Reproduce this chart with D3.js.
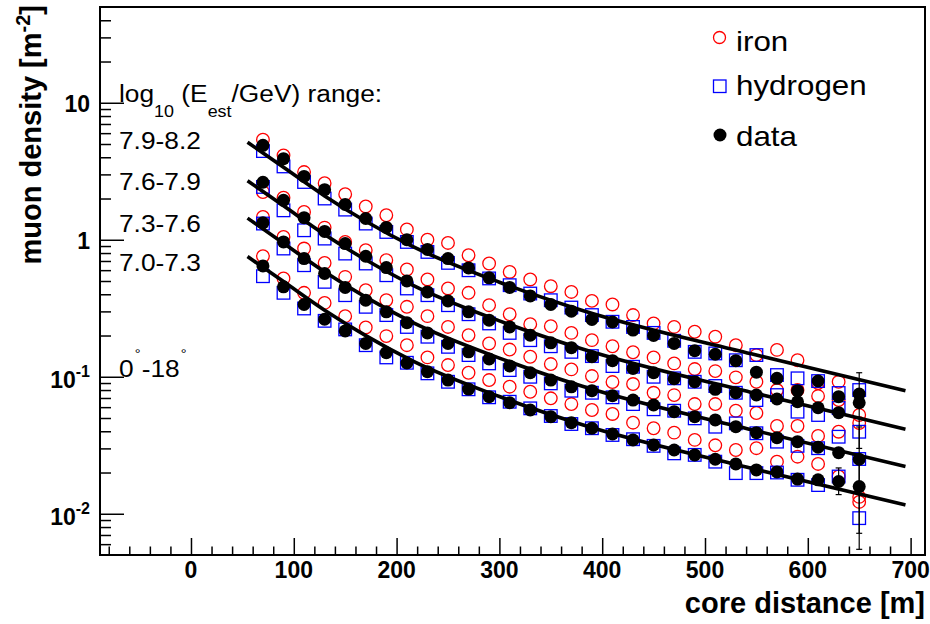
<!DOCTYPE html>
<html>
<head>
<meta charset="utf-8">
<script src="https://cdn.jsdelivr.net/npm/d3@7"></script>
<style>
  body { margin: 0; background: #fff; }
  svg { display: block; }
  text { font-family: "Liberation Sans", Arial, Helvetica, sans-serif; fill: #000; }
</style>
</head>
<body>
<svg id="chart" width="930" height="624"></svg>
<script>
// core distance of every point [m]
var distances = [70, 90, 110, 130, 150, 170, 190, 210, 230, 250, 270, 290, 310, 330, 350,
                 370, 390, 410, 430, 450, 470, 490, 510, 530, 550, 570, 590, 610, 630, 650];

var binLabels = ["7.0-7.3", "7.3-7.6", "7.6-7.9", "7.9-8.2"];

// measured muon density, one array per energy bin
var dataBin1 = [0.644, 0.453, 0.337, 0.263, 0.216, 0.175, 0.150, 0.126, 0.109, 0.0946, 0.0813, 0.0715, 0.0646, 0.0572, 0.0511,
                0.0462, 0.0421, 0.0382, 0.0346, 0.0318, 0.0292, 0.0269, 0.0250, 0.0231, 0.0209, 0.0202, 0.0179, 0.0177, 0.0172, 0.0158];
var dataBin2 = [1.33, 0.964, 0.729, 0.567, 0.449, 0.362, 0.298, 0.248, 0.209, 0.175, 0.152, 0.135, 0.120, 0.107, 0.0946,
                0.0845, 0.0791, 0.0727, 0.0676, 0.0622, 0.0556, 0.0511, 0.0484, 0.0432, 0.0391, 0.0359, 0.0336, 0.0306, 0.0279, 0.0250];
var dataBin3 = [2.63, 1.94, 1.45, 1.15, 0.938, 0.758, 0.627, 0.501, 0.416, 0.358, 0.298, 0.259, 0.231, 0.201, 0.177,
                0.163, 0.140, 0.131, 0.115, 0.107, 0.0967, 0.0920, 0.0809, 0.0764, 0.0736, 0.0688, 0.0657, 0.0594, 0.0547, 0.0646];
var dataBin4 = [4.89, 3.91, 2.90, 2.32, 1.81, 1.43, 1.23, 1.00, 0.849, 0.729, 0.623, 0.527, 0.449, 0.389, 0.337,
                0.301, 0.262, 0.251, 0.219, 0.200, 0.175, 0.155, 0.146, 0.131, 0.108, 0.0974, 0.0791, 0.0931, 0.0715, 0.0748];

// iron simulation
var ironBin1 = [0.758, 0.522, 0.410, 0.346, 0.277, 0.229, 0.198, 0.170, 0.1384, 0.1217, 0.107, 0.0946, 0.0846, 0.0777, 0.0696,
                0.0632, 0.0572, 0.0535, 0.0462, 0.0421, 0.0391, 0.0346, 0.0316, 0.0292, 0.0301, 0.0240, 0.0261, 0.0231, 0.0187, 0.0122];
var ironBin2 = [1.466, 1.048, 0.863, 0.678, 0.536, 0.428, 0.362, 0.324, 0.277, 0.231, 0.201, 0.175, 0.158, 0.140, 0.1238,
                0.1132, 0.1012, 0.0915, 0.0885, 0.0764, 0.0735, 0.0632, 0.0632, 0.0565, 0.0544, 0.0437, 0.0437, 0.0370, 0.0397, 0.01328];
var ironBin3 = [2.23, 2.03, 1.595, 1.227, 0.964, 0.839, 0.709, 0.607, 0.513, 0.441, 0.410, 0.333, 0.286, 0.242, 0.234,
                0.209, 0.185, 0.167, 0.151, 0.1384, 0.1252, 0.1138, 0.110, 0.0990, 0.0919, 0.080, 0.080, 0.0723, 0.0676, 0.0460];
var ironBin4 = [5.37, 4.13, 3.12, 2.59, 2.15, 1.75, 1.51, 1.19, 1.00, 0.948, 0.771, 0.671, 0.582, 0.513, 0.458,
                0.416, 0.358, 0.337, 0.282, 0.245, 0.231, 0.213, 0.196, 0.170, 0.144, 0.157, 0.132, 0.0900, 0.0919, 0.0526];

// hydrogen simulation
var hydrogenBin1 = [0.542, 0.410, 0.315, 0.256, 0.2216, 0.170, 0.1384, 0.1265, 0.1059, 0.0919, 0.0810, 0.0708, 0.0657, 0.0588, 0.0517,
                    0.0452, 0.0421, 0.0376, 0.0350, 0.0313, 0.0276, 0.0269, 0.0240, 0.0198, 0.0198, 0.0200, 0.0177, 0.0162, 0.0187, 0.00929];
var hydrogenBin2 = [1.313, 0.863, 0.652, 0.493, 0.394, 0.324, 0.282, 0.231, 0.196, 0.1654, 0.144, 0.1252, 0.1119, 0.100, 0.0895,
                    0.0791, 0.0764, 0.0708, 0.0632, 0.0579, 0.0565, 0.0497, 0.0432, 0.0457, 0.0387, 0.0336, 0.0313, 0.0301, 0.0365, 0.0251];
var hydrogenBin3 = [2.43, 1.64, 1.173, 1.02, 0.793, 0.671, 0.551, 0.441, 0.394, 0.333, 0.286, 0.245, 0.209, 0.185, 0.167,
                    0.152, 0.1415, 0.1197, 0.1183, 0.100, 0.0974, 0.0919, 0.0856, 0.0764, 0.0676, 0.0735, 0.0556, 0.0526, 0.0591, 0.0397];
var hydrogenBin4 = [4.44, 3.43, 2.64, 2.00, 1.66, 1.313, 1.14, 0.964, 0.815, 0.678, 0.599, 0.522, 0.466, 0.405, 0.362,
                    0.320, 0.282, 0.252, 0.231, 0.209, 0.183, 0.152, 0.148, 0.132, 0.144, 0.1029, 0.0974, 0.0930, 0.0761, 0.080];

// fitted lateral distribution
var fitDistances = [55, 90, 130, 170, 215, 300, 380, 545, 695];
var fitBin1 = [0.754, 0.495, 0.306, 0.1997, 0.1313, 0.0717, 0.0448, 0.0215, 0.01158];
var fitBin2 = [1.438, 0.944, 0.584, 0.381, 0.2505, 0.1369, 0.0855, 0.0411, 0.0221];
var fitBin3 = [2.70, 1.77, 1.094, 0.714, 0.469, 0.256, 0.160, 0.0769, 0.0414];
var fitBin4 = [5.15, 3.38, 2.09, 1.364, 0.897, 0.490, 0.306, 0.147, 0.0791];

// error bars on the outermost data points
var errDistance = [650, 650, 650, 630];
var errLow = [0.0055, 0.0072, 0.030, 0.0138];
var errHigh = [0.027, 0.043, 0.107, 0.0216];

var xTickValues = [0, 100, 200, 300, 400, 500, 600, 700];
var yTickValues = [0.01, 0.1, 1, 10];
var yTickBase = ["10", "10", "1", "10"];
var yTickExp = ["-2", "-1", "", ""];

(function() {

	var left = 100, right = 925, top = 7, bottom = 555;

	var svg = d3.select('#chart');

	var x = d3.scaleLinear().domain([-88.5, 714]).range([left, right]);
	var y = d3.scaleLog().domain([0.005, 50]).range([bottom, top]);

	// the regular text in the original is a little wider than Liberation Sans
	var widen = function(x0) { return 'translate(' + x0 + ',0) scale(1.12,1) translate(' + (-x0) + ',0)'; };

	svg.append('rect').attr('width', 930).attr('height', 624).attr('fill', '#fff');

	var allData = [dataBin1, dataBin2, dataBin3, dataBin4];
	var allIron = [ironBin1, ironBin2, ironBin3, ironBin4];
	var allHydrogen = [hydrogenBin1, hydrogenBin2, hydrogenBin3, hydrogenBin4];
	var allFit = [fitBin1, fitBin2, fitBin3, fitBin4];

	var pairs = function(values) {
		return values.map(function(v, i) { return { d: distances[i], v: v }; });
	};

	var plot = svg.append('g');

	// iron: open red circles
	allIron.forEach(function(series) {
		plot.selectAll(null).data(pairs(series)).enter()
			.append('circle')
				.attr('cx', function(p) { return x(p.d); })
				.attr('cy', function(p) { return y(p.v); })
				.attr('r', 6.3)
				.attr('fill', 'none')
				.attr('stroke', '#ff0000')
				.attr('stroke-width', 1.3);
	});

	// hydrogen: open blue squares
	allHydrogen.forEach(function(series) {
		plot.selectAll(null).data(pairs(series)).enter()
			.append('rect')
				.attr('x', function(p) { return x(p.d) - 6.3; })
				.attr('y', function(p) { return y(p.v) - 6.3; })
				.attr('width', 12.6)
				.attr('height', 12.6)
				.attr('fill', 'none')
				.attr('stroke', '#0000ff')
				.attr('stroke-width', 1.3);
	});

	// fitted curves
	var line = d3.line()
		.x(function(p) { return x(p.d); })
		.y(function(p) { return y(p.v); })
		.curve(d3.curveMonotoneX);

	allFit.forEach(function(series) {
		plot.append('path')
			.datum(series.map(function(v, i) { return { d: fitDistances[i], v: v }; }))
			.attr('d', line)
			.attr('fill', 'none')
			.attr('stroke', '#000')
			.attr('stroke-width', 3.6);
	});

	// error bars
	errDistance.forEach(function(d, i) {
		var g = plot.append('g').attr('stroke', '#000').attr('stroke-width', 1.2);
		g.append('line').attr('x1', x(d)).attr('x2', x(d)).attr('y1', y(errLow[i])).attr('y2', y(errHigh[i]));
		g.append('line').attr('x1', x(d) - 3).attr('x2', x(d) + 3).attr('y1', y(errLow[i])).attr('y2', y(errLow[i]));
		g.append('line').attr('x1', x(d) - 3).attr('x2', x(d) + 3).attr('y1', y(errHigh[i])).attr('y2', y(errHigh[i]));
	});

	// data: full black dots
	allData.forEach(function(series) {
		plot.selectAll(null).data(pairs(series)).enter()
			.append('circle')
				.attr('cx', function(p) { return x(p.d); })
				.attr('cy', function(p) { return y(p.v); })
				.attr('r', 6.5)
				.attr('fill', '#000');
	});

	// frame
	svg.append('rect')
		.attr('x', left).attr('y', top)
		.attr('width', right - left).attr('height', bottom - top)
		.attr('fill', 'none').attr('stroke', '#000').attr('stroke-width', 2);

	// x axis ticks (inward)
	var xMinor = d3.range(-80, 701, 20).filter(function(v) { return v % 100 !== 0; });
	var xAxisMajor = d3.axisBottom(x).tickValues(xTickValues).tickSize(-17).tickFormat('');
	var xAxisMinor = d3.axisBottom(x).tickValues(xMinor).tickSize(-8.5).tickFormat('');
	[xAxisMajor, xAxisMinor].forEach(function(ax) {
		var g = svg.append('g').attr('transform', 'translate(0,' + bottom + ')').call(ax);
		g.select('.domain').remove();
		g.selectAll('line').attr('stroke', '#000').attr('stroke-width', 1.5);
	});

	svg.selectAll(null).data(xTickValues).enter()
		.append('text')
			.attr('x', function(v) { return x(v); })
			.attr('y', 578)
			.attr('text-anchor', 'middle')
			.attr('font-size', 23)
			.attr('font-weight', 'bold')
			.text(function(v) { return v; });

	// y axis ticks (inward)
	var yMinor = y.ticks().filter(function(v) {
		return yTickValues.indexOf(v) < 0 && v > 0.0051 && v < 49;
	});
	var yAxisMajor = d3.axisLeft(y).tickValues(yTickValues).tickSize(-24).tickFormat('');
	var yAxisMinor = d3.axisLeft(y).tickValues(yMinor).tickSize(-11).tickFormat('');
	[yAxisMajor, yAxisMinor].forEach(function(ax) {
		var g = svg.append('g').attr('transform', 'translate(' + left + ',0)').call(ax);
		g.select('.domain').remove();
		g.selectAll('line').attr('stroke', '#000').attr('stroke-width', 1.5);
	});

	yTickValues.forEach(function(v, i) {
		var t = svg.append('text')
			.attr('x', 90)
			.attr('y', y(v) + (yTickExp[i] ? 11 : 9))
			.attr('text-anchor', 'end')
			.attr('font-size', 23)
			.attr('font-weight', 'bold');
		t.append('tspan').text(yTickBase[i]);
		if (yTickExp[i]) {
			t.append('tspan').attr('dy', -11).attr('font-size', 16).text(yTickExp[i]);
		}
	});

	// axis titles
	svg.append('text')
		.attr('x', 925).attr('y', 613)
		.attr('text-anchor', 'end')
		.attr('font-size', 29).attr('font-weight', 'bold')
		.text('core distance [m]');

	var yt = svg.append('text')
		.attr('transform', 'translate(41,5) rotate(-90)')
		.attr('text-anchor', 'end')
		.attr('font-size', 29).attr('font-weight', 'bold');
	yt.append('tspan').text('muon density [m');
	yt.append('tspan').attr('dy', -11).attr('font-size', 20).text('-2');
	yt.append('tspan').attr('dy', 11).text(']');

	// annotation
	var notes = svg.append('g').attr('transform', widen(119));

	var head = notes.append('text').attr('x', 119).attr('y', 102).attr('font-size', 23.5);
	head.append('tspan').text('log');
	head.append('tspan').attr('dy', 15).attr('font-size', 16).text('10');
	head.append('tspan').attr('dy', -15).text(' (E');
	head.append('tspan').attr('dy', 15).attr('font-size', 16).text('est');
	head.append('tspan').attr('dy', -15).text('/GeV) range:');

	var labelY = [271, 232, 190, 149];
	binLabels.forEach(function(lab, i) {
		notes.append('text').attr('x', 119).attr('y', labelY[i]).attr('font-size', 23.5).text(lab);
	});

	var zen = notes.append('text').attr('x', 119).attr('y', 377).attr('font-size', 23.5);
	zen.append('tspan').text('0');
	zen.append('tspan').attr('dx', 1).attr('dy', -19).attr('font-size', 13).text('°');
	zen.append('tspan').attr('dx', 1).attr('dy', 19).text('-18');
	zen.append('tspan').attr('dx', 1).attr('dy', -19).attr('font-size', 13).text('°');

	// legend
	var legend = svg.append('g');
	legend.append('circle').attr('cx', 719.5).attr('cy', 37.5).attr('r', 6)
		.attr('fill', 'none').attr('stroke', '#ff0000').attr('stroke-width', 1.3);
	legend.append('rect').attr('x', 713.5).attr('y', 80).attr('width', 12.5).attr('height', 12.5)
		.attr('fill', 'none').attr('stroke', '#0000ff').attr('stroke-width', 1.3);
	legend.append('circle').attr('cx', 720).attr('cy', 135).attr('r', 6.5).attr('fill', '#000');
	var legendText = ['iron', 'hydrogen', 'data'];
	var legendY = [51, 95, 146];
	var legendLabels = legend.append('g').attr('transform', widen(736));
	legendText.forEach(function(s, i) {
		legendLabels.append('text').attr('x', 736).attr('y', legendY[i]).attr('font-size', 28).text(s);
	});

})();
</script>
</body>
</html>
